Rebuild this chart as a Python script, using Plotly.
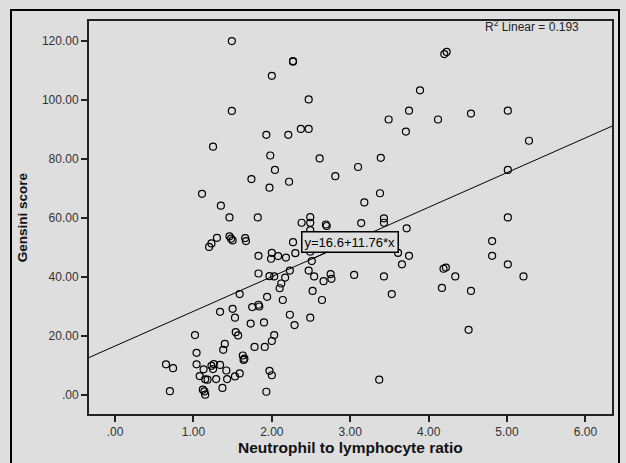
import plotly.graph_objects as go

# Data (Neutrophil to lymphocyte ratio vs Gensini score)
nlr = [1.49, 2.27, 2.27, 2.00, 2.47, 1.49, 2.37, 2.47, 1.93, 2.21,
       1.25, 1.98, 2.61, 3.10, 2.04, 1.74, 2.81, 2.22, 1.97, 1.11,
       1.35, 1.46, 1.82, 2.49, 2.38, 2.49, 2.49, 2.69, 2.70, 3.14,
       3.43, 3.43, 3.38, 3.18, 3.39, 3.49, 3.71, 3.75, 3.89, 4.12,
       4.20, 4.23, 4.54, 5.01, 5.28, 5.01, 5.01, 3.72, 3.61, 3.75,
       3.66, 4.81, 4.81, 5.01, 5.21, 4.22, 4.19, 4.34, 4.17, 4.54,
       4.51, 3.37, 3.43, 3.53, 3.05, 2.75, 2.76, 2.66, 2.64, 2.54,
       2.52, 2.51, 2.49, 2.47, 2.49, 2.27, 2.00, 1.99, 2.08, 2.18,
       2.30, 1.83, 1.83, 1.97, 2.03, 2.17, 2.23, 2.12, 2.10, 1.59,
       1.94, 2.14, 1.34, 1.50, 1.53, 1.75, 1.83, 1.84, 1.73, 1.90,
       2.23, 2.29, 1.02, 1.54, 1.57, 2.03, 2.00, 1.40, 1.38, 1.78,
       1.91, 1.04, 1.63, 1.65, 1.64, 0.65, 0.74, 1.04, 1.13, 1.23,
       1.26, 1.34, 1.25, 1.42, 1.08, 1.15, 1.18, 1.29, 1.43, 1.53,
       1.59, 1.97, 2.00, 0.70, 1.37, 1.12, 1.14, 1.15, 1.93, 1.30,
       1.23, 1.20, 1.46, 1.48, 1.50, 1.66, 1.67]
gensini = [120.0, 113.2, 113.0, 108.2, 100.2, 96.3, 90.2, 90.2, 88.2, 88.2,
           84.2, 81.2, 80.2, 77.3, 76.3, 73.2, 74.2, 72.3, 70.3, 68.2,
           64.2, 60.2, 60.2, 60.3, 58.4, 58.4, 55.9, 57.8, 57.3, 58.3,
           59.9, 58.4, 68.4, 65.3, 80.4, 93.4, 89.3, 96.4, 103.3, 93.4,
           115.6, 116.3, 95.4, 96.4, 86.2, 76.3, 60.2, 56.5, 48.2, 47.2,
           44.3, 52.2, 47.2, 44.3, 40.2, 43.2, 42.8, 40.2, 36.3, 35.3,
           22.1, 5.2, 40.2, 34.2, 40.7, 41.0, 39.4, 38.6, 32.2, 40.2,
           35.3, 45.4, 26.2, 42.2, 48.6, 51.8, 48.2, 46.2, 47.1, 46.6,
           48.1, 47.2, 41.2, 40.3, 40.2, 39.8, 42.2, 37.8, 36.2, 34.2,
           33.3, 32.2, 28.2, 29.2, 26.2, 29.8, 30.6, 30.0, 24.2, 24.6,
           27.2, 23.7, 20.3, 21.3, 20.2, 20.3, 18.3, 17.3, 15.3, 16.3,
           16.3, 14.3, 13.4, 12.3, 11.9, 10.4, 9.1, 10.4, 8.7, 9.9,
           10.5, 10.2, 8.8, 8.3, 6.4, 5.3, 5.2, 5.4, 5.4, 6.3,
           7.3, 8.2, 6.7, 1.3, 2.4, 1.8, 1.2, 0.1, 1.1, 53.3,
           51.4, 50.2, 53.8, 53.0, 52.4, 53.2, 52.2]

fit_intercept = [16.6]
fit_slope = [11.76]
r2_linear = [0.193]

x_tickvals = [0, 1, 2, 3, 4, 5, 6]
x_ticktext = [".00", "1.00", "2.00", "3.00", "4.00", "5.00", "6.00"]
y_tickvals = [0, 20, 40, 60, 80, 100, 120]
y_ticktext = [".00", "20.00", "40.00", "60.00", "80.00", "100.00", "120.00"]

x_range = [-0.332, 6.339]
y_range = [-6.34, 126.9]

FONT = "Liberation Sans, Arial, sans-serif"
BG = "#dedede"

fig = go.Figure()

fig.add_trace(go.Scatter(
    x=nlr, y=gensini, mode="markers",
    marker=dict(symbol="circle-open", size=7, color="black", line=dict(width=1.2, color="black")),
    showlegend=False, hoverinfo="skip",
))

fit_x = x_range
fit_y = [fit_intercept[0] + fit_slope[0] * v for v in fit_x]
fig.add_trace(go.Scatter(
    x=fit_x, y=fit_y, mode="lines",
    line=dict(color="black", width=1),
    showlegend=False, hoverinfo="skip",
))

# invisible anchor so that the frame subplot (x2/y2) is created and its edge lines drawn
fig.add_trace(go.Scatter(
    x=[0.5], y=[0.5], xaxis="x2", yaxis="y2", mode="markers",
    marker=dict(opacity=0, size=1), showlegend=False, hoverinfo="skip",
))

axis_common = dict(showgrid=False, zeroline=False, showline=True, linecolor="#222222",
                   linewidth=2, mirror=True, ticks="outside", ticklen=6, tickwidth=2,
                   tickcolor="#222222", tickfont=dict(size=12, color="#333333"),
                   automargin=False)

# The margin box is the outer chart frame; the data axes sit inside it via their domains.
fig.update_layout(
    width=626, height=463,
    margin=dict(l=12, r=8, t=11, b=0, autoexpand=False),
    paper_bgcolor=BG, plot_bgcolor="rgba(0,0,0,0)",
    font=dict(family=FONT, size=12, color="#333333"),
    xaxis=dict(range=x_range, tickvals=x_tickvals, ticktext=x_ticktext,
               domain=[0.12706, 0.99010], anchor="y", **axis_common),
    yaxis=dict(range=y_range, tickvals=y_tickvals, ticktext=y_ticktext,
               domain=[0.10907, 0.97854], anchor="x", **axis_common),
    # frame axes: top edge + left/right edges of the outer chart box
    xaxis2=dict(domain=[0, 1], anchor="y2", side="top", range=[0, 1], showline=True,
                linecolor="black", linewidth=2, showticklabels=False, ticks="",
                showgrid=False, zeroline=False, fixedrange=True, automargin=False),
    yaxis2=dict(domain=[0, 1], anchor="x2", range=[0, 1], showline=True, mirror=True,
                linecolor="black", linewidth=2, showticklabels=False, ticks="",
                showgrid=False, zeroline=False, fixedrange=True, automargin=False),
)

eq_x = 2.52
fig.add_annotation(
    x=eq_x, y=fit_intercept[0] + fit_slope[0] * eq_x,
    text=f"y={fit_intercept[0]}+{fit_slope[0]}*x",
    showarrow=True, arrowhead=0, arrowwidth=1, arrowcolor="black",
    ax=37, ay=-17, font=dict(family=FONT, size=13, color="black"),
    bordercolor="black", borderwidth=1.5, borderpad=2, bgcolor=BG,
)

fig.add_annotation(
    xref="paper", yref="paper", x=0.7772, y=0.9668, xanchor="left", yanchor="middle",
    text=f"R<sup>2</sup> Linear = {r2_linear[0]}", showarrow=False,
    font=dict(family=FONT, size=12, color="#222222"),
)

fig.add_annotation(
    xref="paper", yref="paper", x=0.0165, y=0.5438, xanchor="center", yanchor="middle",
    text="<b>Gensini score</b>", textangle=-90, showarrow=False,
    font=dict(family=FONT, size=13.5, color="#111111"),
)
fig.add_annotation(
    xref="paper", yref="paper", x=0.5586, y=0.0332, xanchor="center", yanchor="middle",
    text="<b>Neutrophil to lymphocyte ratio</b>", showarrow=False,
    font=dict(family=FONT, size=15.5, color="#111111"),
)

page_js = (
    "document.body.style.margin='0';"
    "document.body.style.overflow='hidden';"
    "document.body.style.background='%s';" % BG
)

fig.write_html(
    "out.html",
    config={"displayModeBar": False},
    post_script=page_js,
)
